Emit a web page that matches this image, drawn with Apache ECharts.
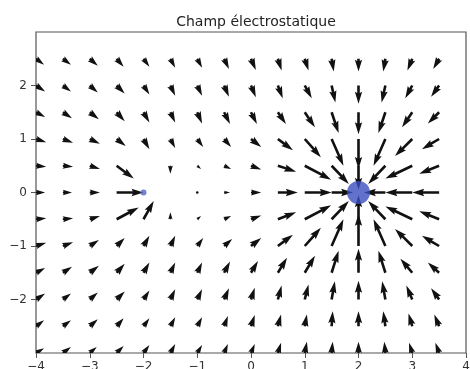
<!DOCTYPE html>
<html>
<head>
<meta charset="utf-8">
<script src="https://cdn.jsdelivr.net/npm/echarts@6/dist/echarts.min.js"></script>
<style>
  html, body { margin: 0; padding: 0; background: #fff; }
  #chart { width: 470px; height: 369px; }
</style>
</head>
<body>
<div id="chart"></div>
<script>
// grille du champ (queue des flèches)
var xs = [-4, -3.5, -3, -2.5, -2, -1.5, -1, -0.5, 0, 0.5, 1, 1.5, 2, 2.5, 3, 3.5];
var ys = [-3, -2.5, -2, -1.5, -1, -0.5, 0, 0.5, 1, 1.5, 2, 2.5];

// composantes (une ligne par valeur de y, du bas vers le haut)
var U = [
  [0.15,0.15,0.13,0.13,0.11,0.09,0.09,0.07,0.07,0.06,0.04,0.02,0,-0.02,-0.06,-0.07],
  [0.15,0.15,0.15,0.13,0.11,0.09,0.09,0.07,0.07,0.06,0.04,0.02,0,-0.04,-0.07,-0.09],
  [0.17,0.15,0.15,0.15,0.11,0.09,0.09,0.09,0.07,0.07,0.07,0.06,0,-0.06,-0.11,-0.15],
  [0.17,0.17,0.17,0.15,0.11,0.09,0.09,0.11,0.13,0.17,0.19,0.13,0,-0.13,-0.22,-0.21],
  [0.19,0.19,0.17,0.15,0.11,0.09,0.11,0.15,0.19,0.28,0.30,0.22,0,-0.22,-0.32,-0.32],
  [0.19,0.19,0.19,0.41,0.19,0,0.07,0.13,0.19,0.34,0.49,0.32,0,-0.32,-0.50,-0.37],
  [0.17,0.17,0.19,0.50,null,null,0.02,0.11,0.19,0.37,0.50,0.40,null,-0.40,-0.50,-0.50],
  [0.19,0.19,0.19,0.32,null,0,0.07,0.13,0.19,0.34,0.49,0.32,0,-0.32,-0.50,-0.37],
  [0.19,0.19,0.19,0.17,0.11,0.09,0.11,0.13,0.19,0.28,0.30,0.22,0,-0.22,-0.32,-0.32],
  [0.17,0.17,0.17,0.15,0.11,0.09,0.09,0.11,0.11,0.15,0.19,0.13,0,-0.13,-0.19,-0.21],
  [0.17,0.15,0.15,0.15,0.11,0.09,0.09,0.09,0.09,0.09,0.13,0.07,0,-0.07,-0.13,-0.15],
  [0.15,0.15,0.15,0.13,0.11,0.09,0.09,0.09,0.09,0.07,0.07,0.04,0,-0.04,-0.09,-0.11]
];
var V = [
  [0.09,0.11,0.11,0.13,0.15,0.17,0.15,0.17,0.17,0.19,0.21,0.21,0.21,0.21,0.19,0.19],
  [0.11,0.11,0.13,0.15,0.15,0.17,0.17,0.19,0.21,0.22,0.22,0.28,0.28,0.28,0.24,0.22],
  [0.11,0.11,0.13,0.15,0.17,0.19,0.19,0.21,0.22,0.26,0.28,0.34,0.35,0.34,0.26,0.21],
  [0.09,0.11,0.13,0.17,0.19,0.19,0.19,0.21,0.22,0.28,0.32,0.41,0.45,0.41,0.26,0.19],
  [0.06,0.07,0.11,0.15,0.19,0.19,0.15,0.13,0.15,0.21,0.34,0.50,0.60,0.50,0.32,0.19],
  [0.02,0.02,0.06,0.22,0.34,0.13,0.06,0.06,0.07,0.13,0.26,0.34,0.45,0.34,0.24,0.15],
  [0,0,0,0,null,null,0,0,0,0,0,0,null,0,0,0],
  [-0.02,-0.02,-0.06,-0.24,null,-0.15,-0.06,-0.06,-0.07,-0.11,-0.26,-0.34,-0.45,-0.34,-0.24,-0.15],
  [-0.06,-0.07,-0.09,-0.13,-0.19,-0.17,-0.15,-0.15,-0.15,-0.21,-0.34,-0.50,-0.56,-0.50,-0.32,-0.19],
  [-0.09,-0.11,-0.13,-0.17,-0.19,-0.19,-0.21,-0.22,-0.22,-0.22,-0.28,-0.39,-0.41,-0.39,-0.28,-0.21],
  [-0.11,-0.11,-0.13,-0.15,-0.17,-0.19,-0.19,-0.21,-0.22,-0.24,-0.24,-0.32,-0.34,-0.32,-0.24,-0.21],
  [-0.11,-0.11,-0.13,-0.15,-0.15,-0.17,-0.17,-0.19,-0.21,-0.22,-0.22,-0.24,-0.24,-0.24,-0.22,-0.19]
];

// charges
var chargeX = [-2, 2];
var chargeY = [0, 0];

// graduations
var xTicks = [-4, -3, -2, -1, 0, 1, 2, 3, 4];
var yTicks = [-2, -1, 0, 1, 2];

var arrows = [];
for (var j = 0; j < ys.length; j++) {
  for (var i = 0; i < xs.length; i++) {
    if (U[j][i] === null) continue;
    arrows.push([xs[i], ys[j], U[j][i], V[j][i]]);
  }
}

// flèche façon quiver de matplotlib
function renderArrow(params, api) {
  var x = api.value(0), y = api.value(1), u = api.value(2), v = api.value(3);
  var p0 = api.coord([x, y]);
  var p1 = api.coord([x + u, y + v]);
  var dx = p1[0] - p0[0], dy = p1[1] - p0[1];
  var L = Math.sqrt(dx * dx + dy * dy);
  var w = 2.6, hl = 4.6 * w, hal = 4.1 * w, hw = 1.4 * w;
  if (L < w) {
    return { type: 'circle', shape: { cx: p0[0], cy: p0[1], r: 1.3 }, style: { fill: '#111' } };
  }
  var s = L < hl ? L / hl : 1;
  var Lf = L / s;
  var pts = [[0, -w / 2], [Lf - hal, -w / 2], [Lf - hl, -hw], [Lf, 0], [Lf - hl, hw], [Lf - hal, w / 2], [0, w / 2]];
  var c = dx / L, sn = dy / L;
  var out = pts.map(function (p) {
    var a = p[0] * s, b = p[1] * s;
    return [p0[0] + a * c - b * sn, p0[1] + a * sn + b * c];
  });
  return { type: 'polygon', shape: { points: out }, style: { fill: '#111' } };
}

var myChart = echarts.init(document.getElementById('chart'));
var fmt = function (val) { return String(val).replace('-', '\u2212'); };

var option = {
  animation: false,
  title: {
    text: 'Champ électrostatique',
    left: 251,
    textAlign: 'center',
    top: 10,
    textStyle: { fontFamily: 'DejaVu Sans', fontSize: 14, fontWeight: 'normal', color: '#222' }
  },
  grid: {
    left: 36, right: 4, top: 32, bottom: 16,
    outerBoundsMode: 'none',
    containLabel: false,
    show: true, borderColor: '#555', borderWidth: 1.2, backgroundColor: '#fff'
  },
  xAxis: {
    type: 'value', min: -4, max: 4, interval: 1,
    splitLine: { show: false },
    axisLine: { show: false, onZero: false },
    axisTick: { show: true, length: 5, lineStyle: { color: '#555' }, customValues: xTicks },
    axisLabel: { customValues: xTicks, formatter: fmt, margin: 8, fontFamily: 'DejaVu Sans', fontSize: 12, color: '#333' }
  },
  yAxis: {
    type: 'value', min: -3, max: 3, interval: 1,
    splitLine: { show: false },
    axisLine: { show: false, onZero: false },
    axisTick: { show: true, length: 5, lineStyle: { color: '#555' }, customValues: yTicks },
    axisLabel: { customValues: yTicks, formatter: fmt, margin: 9, fontFamily: 'DejaVu Sans', fontSize: 12, color: '#333' }
  },
  series: [
    {
      name: 'E',
      type: 'custom',
      renderItem: renderArrow,
      data: arrows,
      clip: true,
      z: 2
    },
    {
      name: 'charges',
      type: 'scatter',
      z: 5,
      data: [
        { value: [chargeX[0], chargeY[0]], symbolSize: 6, itemStyle: { color: '#5563c4' } },
        { value: [chargeX[1], chargeY[1]], symbolSize: 23, itemStyle: { color: '#3b4fbf' } }
      ]
    }
  ]
};

myChart.setOption(option);
</script>
</body>
</html>
